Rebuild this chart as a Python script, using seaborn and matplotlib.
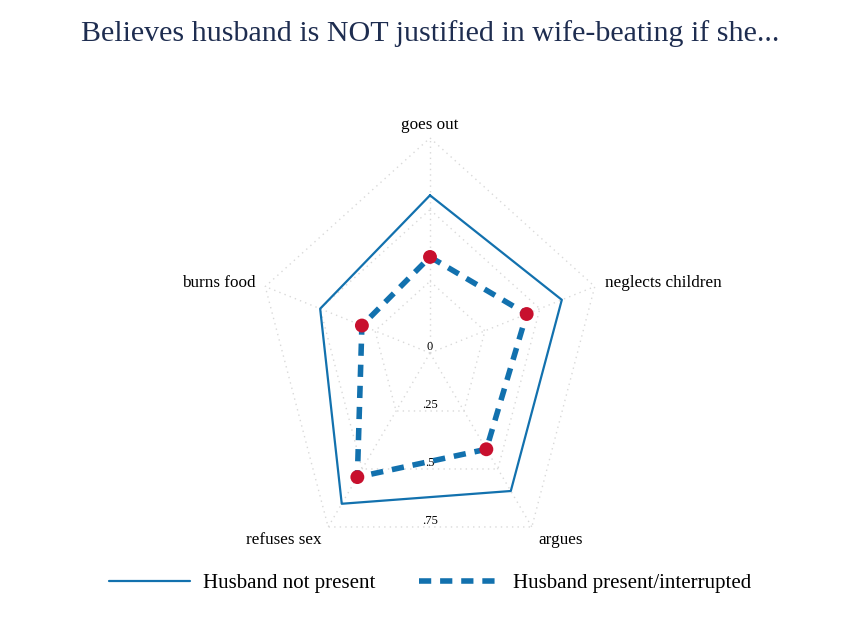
import numpy as np
import pandas as pd
import seaborn as sns
import matplotlib.pyplot as plt
from matplotlib.lines import Line2D

# values (share who say "not justified")
categories = ["goes out", "neglects children", "argues", "refuses sex", "burns food"]
not_present = [0.55, 0.60, 0.595, 0.65, 0.50]
present = [0.335, 0.44, 0.415, 0.535, 0.31]
ring_levels = [0.25, 0.5, 0.75]
ring_labels = ["0", ".25", ".5", ".75"]

BLUE = "#1271ae"
RED = "#c8102e"
GRID = "#d9d9d9"

sns.set_theme(style="white")
plt.rcParams["font.family"] = ["Liberation Serif", "DejaVu Serif"]
plt.rcParams["text.color"] = "black"

n = len(categories)
angles = np.arange(n) * 2 * np.pi / n  # clockwise from top


def to_xy(vals):
    vals = np.asarray(vals, dtype=float)
    return vals * np.sin(angles), vals * np.cos(angles)


def closed_frame(vals, name):
    x, y = to_xy(vals)
    return pd.DataFrame({"x": np.append(x, x[0]), "y": np.append(y, y[0]),
                         "order": np.arange(n + 1), "series": name})


fig = plt.figure(figsize=(8.6, 6.26), dpi=100)
ax = fig.add_axes([0, 0, 1, 1])
ax.set_xlim(-1.8615, 1.8615)
ax.set_ylim(-0.9522, 1.2312)
ax.axis("off")

# pentagon grid
for lev in ring_levels:
    x, y = to_xy([lev] * n)
    ax.plot(np.append(x, x[0]), np.append(y, y[0]), color=GRID, lw=1,
            ls=(0, (1, 3)), zorder=1)
ox, oy = to_xy([ring_levels[-1]] * n)
for i in range(n):
    ax.plot([0, ox[i]], [0, oy[i]], color=GRID, lw=1, ls=(0, (1, 3)), zorder=1)

# ring value labels, along the bottom
cos36 = np.cos(np.pi / n)
for lev, lab in zip([0] + ring_levels, ring_labels):
    ax.text(0, -lev * cos36 + 0.021, lab, ha="center", va="center", fontsize=9,
            color="black", zorder=2)

df1 = closed_frame(not_present, "Husband not present")
df2 = closed_frame(present, "Husband present/interrupted")
sns.lineplot(data=df1, x="x", y="y", sort=False, estimator=None, color=BLUE,
             lw=1.6, ax=ax, zorder=3)
sns.lineplot(data=df2, x="x", y="y", sort=False, estimator=None, color=BLUE,
             lw=4, ls=(0, (2.2, 1.6)), ax=ax, zorder=3)
px, py = to_xy(present)
sns.scatterplot(x=px, y=py, color=RED, s=100, edgecolor="none", ax=ax, zorder=4)

# category labels
lx, ly = to_xy([0.795] * n)
aligns = ["center", "left", "left", "right", "right"]
for i, cat in enumerate(categories):
    ax.text(lx[i], ly[i] - (0.008 if i in (2, 3) else 0), cat, ha=aligns[i],
            va="center", fontsize=12.3, color="black")

fig.text(0.5, 0.947, "Believes husband is NOT justified in wife-beating if she...",
         ha="center", va="center", fontsize=21.6, color="#1e2d50")

handles = [Line2D([], [], color=BLUE, lw=1.6),
           Line2D([], [], color=BLUE, lw=4, ls=(0, (2.2, 1.6)))]
fig.legend(handles, [df1.series[0], df2.series[0]], loc="center",
           bbox_to_anchor=(0.5, 0.068), ncol=2, frameon=False, fontsize=15,
           handlelength=3.9, columnspacing=2.1, handletextpad=0.6,
           labelcolor="black")

fig.savefig("out.png", dpi=100)
